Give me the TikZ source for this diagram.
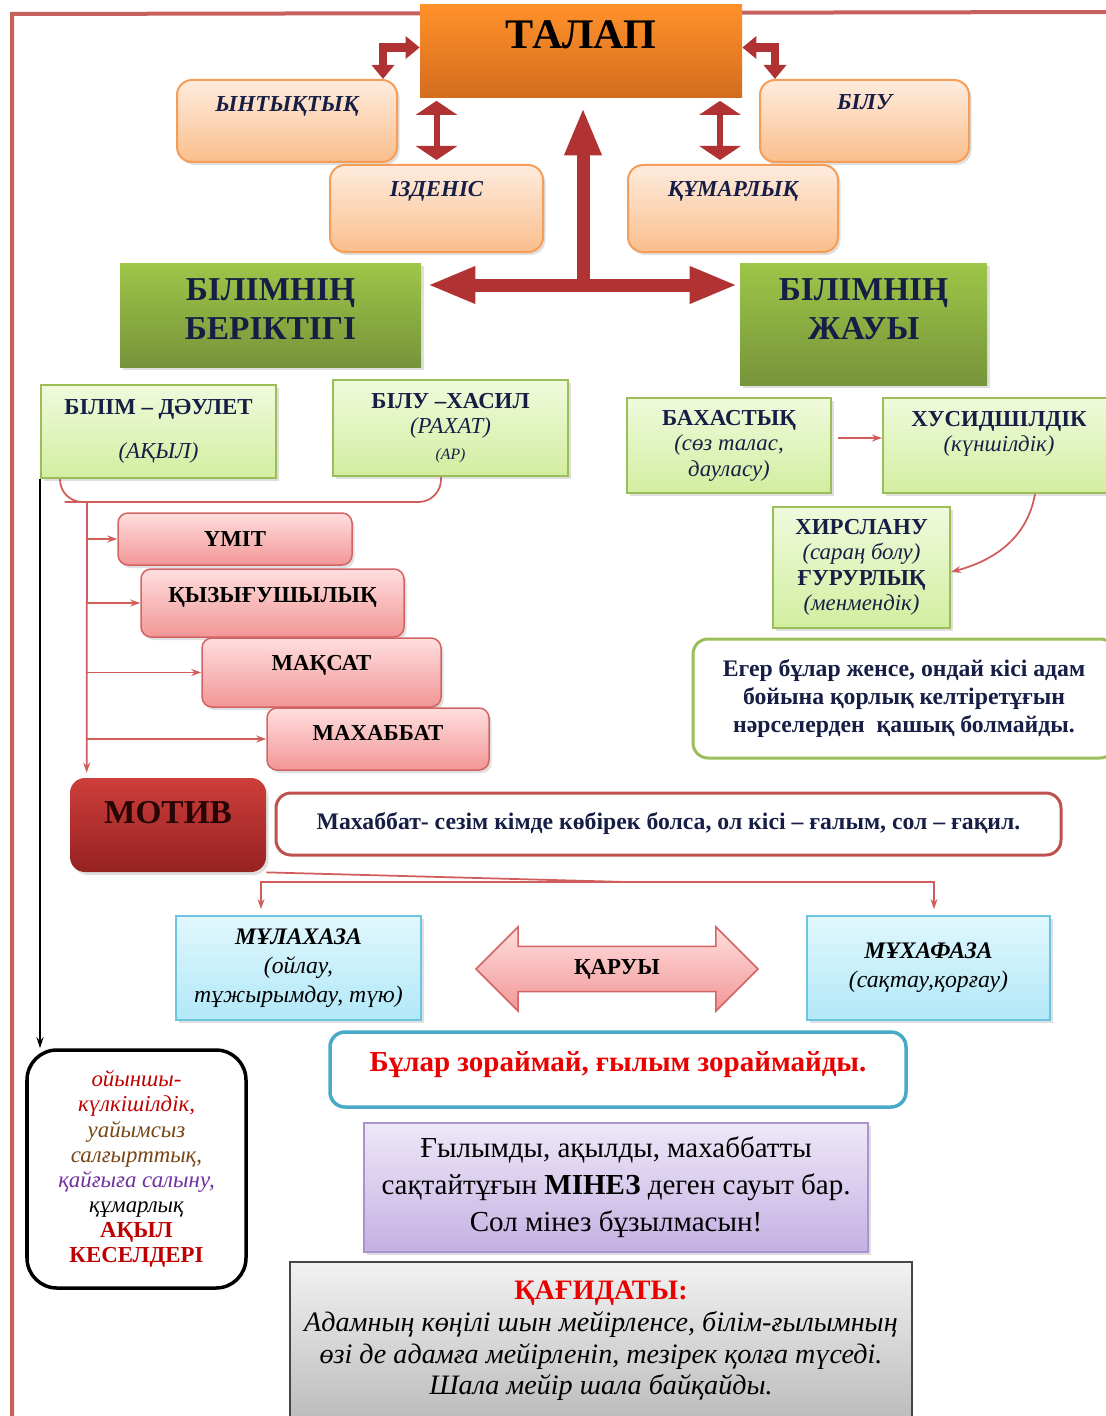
\documentclass[tikz,border=0pt]{standalone}
\usepackage{fontspec}
\setmainfont{Liberation Serif}
\usetikzlibrary{arrows.meta,shapes.arrows,shadows}
\pgfdeclarelayer{bg}
\pgfsetlayers{bg,main}

\definecolor{framered}{RGB}{192,80,77}
\definecolor{blockred}{RGB}{176,50,50}
\definecolor{linkred}{RGB}{208,92,92}
\definecolor{inktext}{RGB}{22,30,70}
\definecolor{talaptop}{RGB}{255,145,42}
\definecolor{talapbot}{RGB}{212,108,30}
\definecolor{peachtop}{RGB}{254,236,222}
\definecolor{peachbot}{RGB}{250,190,140}
\definecolor{peachedge}{RGB}{246,158,88}
\definecolor{greentop}{RGB}{158,198,72}
\definecolor{greenbot}{RGB}{118,148,58}
\definecolor{limetop}{RGB}{240,250,220}
\definecolor{limebot}{RGB}{210,238,160}
\definecolor{limeedge}{RGB}{155,190,90}
\definecolor{pinktop}{RGB}{255,222,222}
\definecolor{pinkbot}{RGB}{242,150,150}
\definecolor{pinkedge}{RGB}{210,100,100}
\definecolor{motivtop}{RGB}{205,62,58}
\definecolor{motivbot}{RGB}{150,34,34}
\definecolor{skytop}{RGB}{224,247,253}
\definecolor{skybot}{RGB}{178,232,248}
\definecolor{skyedge}{RGB}{110,195,222}
\definecolor{tealedge}{RGB}{72,170,200}
\definecolor{lilactop}{RGB}{238,232,248}
\definecolor{lilacbot}{RGB}{196,176,226}
\definecolor{lilacedge}{RGB}{170,148,206}
\definecolor{greytop}{RGB}{242,242,242}
\definecolor{greybot}{RGB}{188,188,188}
\definecolor{alarmred}{RGB}{235,0,0}
\definecolor{kesred}{RGB}{190,0,0}
\definecolor{kesbrown}{RGB}{120,70,20}
\definecolor{kespurple}{RGB}{112,48,160}

\tikzset{
  boxshadow/.style={drop shadow={opacity=0.25, shadow xshift=0.05cm, shadow yshift=-0.06cm}},
  talapbox/.style={top color=talaptop, bottom color=talapbot, inner sep=0.1cm,
    font=\bfseries\fontsize{24}{28}\selectfont},
  peachbox/.style={draw=peachedge, line width=0.04cm, rounded corners=0.3cm,
    top color=peachtop, bottom color=peachbot, boxshadow, inner sep=0.1cm,
    text=inktext, font=\bfseries\itshape\fontsize{13}{15}\selectfont},
  greenbox/.style={top color=greentop, bottom color=greenbot, boxshadow, align=center,
    inner sep=0.1cm, text=inktext, font=\bfseries\fontsize{19}{22}\selectfont},
  limebox/.style={draw=limeedge, line width=0.04cm, top color=limetop, bottom color=limebot,
    boxshadow, align=center, inner sep=0.1cm, text=inktext, font=\fontsize{13}{14.5}\selectfont},
  pinkbox/.style={draw=pinkedge, line width=0.03cm, rounded corners=0.2cm,
    top color=pinktop, bottom color=pinkbot, boxshadow, inner sep=0.1cm,
    font=\bfseries\fontsize{13}{15}\selectfont},
  motivbox/.style={rounded corners=0.3cm, top color=motivtop, bottom color=motivbot,
    boxshadow, inner sep=0.1cm, text={rgb,255:red,40;green,5;blue,5},
    font=\bfseries\fontsize{19}{22}\selectfont},
  notebox/.style={line width=0.06cm, rounded corners=0.3cm, fill=white, align=center,
    inner sep=0.1cm, text=inktext, font=\bfseries\fontsize{13.5}{16}\selectfont},
  skybox/.style={draw=skyedge, line width=0.04cm, top color=skytop, bottom color=skybot,
    boxshadow, align=center, inner sep=0.1cm, font=\itshape\fontsize{13.5}{16.5}\selectfont},
  qaruyarrow/.style={double arrow, double arrow head extend=0.39cm, inner ysep=0.24cm,
    draw=pinkedge, line width=0.03cm, top color=pinktop, bottom color=pinkbot,
    font=\bfseries\fontsize{13}{15}\selectfont},
  akylbox/.style={draw=black, line width=0.07cm, rounded corners=0.6cm, fill=white,
    align=center, inner sep=0.1cm, font=\itshape\fontsize{13}{14.3}\selectfont},
  lilacbox/.style={draw=lilacedge, line width=0.04cm, top color=lilactop, bottom color=lilacbot,
    boxshadow, align=center, inner sep=0.1cm, font=\fontsize{16.5}{21}\selectfont},
  greybox/.style={draw={rgb,255:red,70;green,70;blue,70}, line width=0.03cm,
    top color=greytop, bottom color=greybot, align=center, inner sep=0.1cm,
    font=\fontsize{16}{18}\selectfont},
  frameline/.style={draw=framered, line width=0.08cm, opacity=0.9},
  blockarrow/.style={draw=blockred, line width=0.26cm, -{Triangle[length=0.96cm, width=0.68cm]}},
  hookarrow/.style={draw=blockred, line width=0.17cm,
    {Triangle[length=0.28cm, width=0.44cm]}-{Triangle[length=0.28cm, width=0.44cm]}},
  twinarrow/.style={draw=blockred, line width=0.12cm,
    {Triangle[length=0.28cm, width=0.82cm]}-{Triangle[length=0.28cm, width=0.82cm]}},
  linkarrow/.style={draw=linkred, line width=0.035cm, -{Stealth[length=0.2cm, width=0.14cm]}},
  linkline/.style={draw=linkred, line width=0.035cm},
  inkarrow/.style={draw=black, line width=0.03cm, -{Stealth[length=0.22cm, width=0.14cm]}}
}

\begin{document}
\begin{tikzpicture}
        \useasboundingbox (0cm, 0cm) rectangle (22.1cm, -28.32cm);
        % top
        \node (talap) [talapbox, minimum width=6.44cm, minimum height=1.86cm, text depth=0.66cm] at (11.62cm, -1.03cm) {ТАЛАП};
        \node (yntyq) [peachbox, minimum width=4.40cm, minimum height=1.64cm, text depth=0.68cm] at (5.74cm, -2.42cm) {ЫНТЫҚТЫҚ};
        \node (bilu) [peachbox, minimum width=4.18cm, minimum height=1.64cm, text depth=0.76cm] at (17.29cm, -2.42cm) {БІЛУ};
        \node (izdenis) [peachbox, minimum width=4.26cm, minimum height=1.74cm, text depth=0.80cm] at (8.73cm, -4.17cm) {ІЗДЕНІС};
        \node (qumar) [peachbox, minimum width=4.20cm, minimum height=1.74cm, text depth=0.80cm] at (14.66cm, -4.17cm) {ҚҰМАРЛЫҚ};
        \node (berik) [greenbox, minimum width=6.02cm, minimum height=2.08cm, text height=0.98cm, text depth=0cm] at (5.41cm, -6.30cm) {БІЛІМНІҢ\\БЕРІКТІГІ};
        \node (jauy) [greenbox, minimum width=4.94cm, minimum height=2.44cm, text height=0.62cm, text depth=0cm] at (17.27cm, -6.48cm) {БІЛІМНІҢ\\ЖАУЫ};
        \coordinate (hub) at (11.66cm, -5.70cm);
        % left column
        \node (bilim) [limebox, minimum width=4.70cm, minimum height=1.86cm] at (3.17cm, -8.63cm) {\textbf{БІЛІМ – ДӘУЛЕТ}\\[0.37cm]\textit{(АҚЫЛ)}};
        \node (bilux) [limebox, minimum width=4.70cm, minimum height=1.92cm] at (9.01cm, -8.56cm) {\textbf{БІЛУ –ХАСИЛ}\\\textit{(РАХАТ)}\\{\fontsize{9}{10}\selectfont\textit{(АР)}}};
        \coordinate (brk) at (1.74cm, -10.04cm);
        \node (ymit) [pinkbox, minimum width=4.68cm, minimum height=1.04cm] at (4.70cm, -10.78cm) {ҮМІТ};
        \node (qyzyg) [pinkbox, minimum width=5.26cm, minimum height=1.36cm, text depth=0.32cm] at (5.45cm, -12.06cm) {ҚЫЗЫҒУШЫЛЫҚ};
        \node (maqsat) [pinkbox, minimum width=4.78cm, minimum height=1.38cm, text depth=0.38cm] at (6.43cm, -13.45cm) {МАҚСАТ};
        \node (mahabbat) [pinkbox, minimum width=4.44cm, minimum height=1.24cm, text depth=0.24cm] at (7.56cm, -14.78cm) {МАХАББАТ};
        % right column
        \node (bakh) [limebox, minimum width=4.08cm, minimum height=1.90cm] at (14.58cm, -8.91cm) {\textbf{БАХАСТЫҚ}\\\textit{(сөз талас,}\\\textit{дауласу)}};
        \node (khus) [limebox, minimum width=4.64cm, minimum height=1.90cm, text height=0.24cm, text depth=0cm] at (19.98cm, -8.91cm) {\textbf{ХУСИДШІЛДІК}\\\textit{(күншілдік)}};
        \node (hirs) [limebox, minimum width=3.54cm, minimum height=2.42cm] at (17.23cm, -11.35cm) {\textbf{ХИРСЛАНУ}\\\textit{(сараң болу)}\\\textbf{ҒУРУРЛЫҚ}\\\textit{(менмендік)}};
        \node (eger) [notebox, draw=limeedge, minimum width=8.44cm, minimum height=2.38cm] at (18.08cm, -13.97cm) {Егер бұлар женсе, ондай кісі адам\\бойына қорлық келтіретұғын\\нәрселерден\ \ қашық болмайды.};
        % motive
        \node (motiv) [motivbox, minimum width=3.92cm, minimum height=1.88cm, text depth=0.52cm] at (3.36cm, -16.50cm) {МОТИВ};
        \node (quote) [notebox, draw=framered, minimum width=15.70cm, minimum height=1.24cm] at (13.37cm, -16.48cm) {Махаббат- сезім кімде көбірек болса, ол кісі – ғалым, сол – ғақил.};
        \coordinate (split) at (12.54cm, -17.64cm);
        \node (mulah) [skybox, minimum width=4.90cm, minimum height=2.08cm] at (5.97cm, -19.36cm) {\textbf{МҰЛАХАЗА}\\(ойлау,\\тұжырымдау, түю)};
        \node (muhaf) [skybox, minimum width=4.86cm, minimum height=2.08cm] at (18.57cm, -19.36cm) {\textbf{МҰХАФАЗА}\\(сақтау,қорғау)};
        \node (qaruy) [qaruyarrow, minimum height=5.64cm, minimum width=1.64cm] at (12.34cm, -19.38cm) {ҚАРУЫ};
        % bottom
        \node (akyl) [akylbox, minimum width=4.38cm, minimum height=4.76cm] at (2.73cm, -23.38cm) {\textcolor{kesred}{ойыншы-}\\\textcolor{kesred}{күлкішілдік,}\\\textcolor{kesbrown}{уайымсыз}\\\textcolor{kesbrown}{салғырттық,}\\\textcolor{kespurple}{қайғыға салыну,}\\құмарлық\\\textcolor{kesred}{\upshape\bfseries\fontsize{13}{14.3}\selectfont АҚЫЛ}\\\textcolor{kesred}{\upshape\bfseries\fontsize{13}{14.3}\selectfont КЕСЕЛДЕРІ}};
        \node (bular) [notebox, draw=tealedge, line width=0.07cm, minimum width=11.52cm, minimum height=1.50cm, text depth=0.30cm, text=alarmred, font=\bfseries\fontsize{16.5}{18}\selectfont] at (12.36cm, -21.39cm) {Бұлар зораймай, ғылым зораймайды.};
        \node (mineze) [lilacbox, minimum width=10.08cm, minimum height=2.58cm] at (12.32cm, -23.75cm) {Ғылымды, ақылды, махаббатты\\сақтайтұғын \textbf{МІНЕЗ} деген сауыт бар.\\Сол мінез бұзылмасын!};
        \node (qagida) [greybox, minimum width=12.44cm, minimum height=3.16cm] at (12.02cm, -26.82cm) {\textcolor{alarmred}{\bfseries ҚАҒИДАТЫ:}\\\textit{Адамның көңілі шын мейірленсе, білім-ғылымның}\\\textit{өзі де адамға мейірленіп, тезірек қолға түседі.}\\\textit{Шала мейір шала байқайды.}};
        \begin{pgfonlayer}{bg}
                \draw [frameline] (22.2cm, -0.24cm) -- (0.24cm, -0.28cm) -- (0.24cm, -28.4cm);
                \draw [hookarrow] ([xshift=-0.30cm]yntyq.north east) |- ([yshift=0.08cm]talap.west);
                \draw [hookarrow] ([yshift=0.08cm]talap.east) -| ([xshift=0.32cm]bilu.north west);
                \draw [twinarrow, shorten <=0.08cm, shorten >=0.05cm] (izdenis.north) -- (izdenis.north |- talap.south);
                \draw [twinarrow, shorten <=0.08cm, shorten >=0.05cm] ([xshift=-0.26cm]qumar.north) -- ([xshift=-0.26cm]qumar.north |- talap.south);
                \draw [blockarrow] (hub) -- ([yshift=-0.18cm]talap.south -| hub);
                \draw [blockarrow] (hub) -- ([xshift=0.12cm]berik.east |- hub);
                \draw [blockarrow] (hub) -- ([xshift=-0.04cm]jauy.west |- hub);
                \draw [linkline, rounded corners=0.45cm] ([xshift=0.40cm]bilim.south west) |- (brk) -| ([xshift=-0.19cm]bilux.south);
                \draw [linkarrow, shorten >=0.1cm] (brk) -- ([xshift=0.34cm]motiv.north west);
                \foreach \b in {ymit,qyzyg,maqsat,mahabbat}
                        \draw [linkarrow] (brk |- \b.west) -- (\b.west);
                \draw [inkarrow] (bilim.south west) -- (bilim.south west |- akyl.north);
                \draw [linkarrow, shorten <=0.12cm] ([yshift=0.15cm]bakh.east) -- ([yshift=0.15cm]bakh.east -| khus.west);
                \draw [linkarrow] ([xshift=0.72cm]khus.south) to [out=-100, in=15] ([yshift=-0.09cm]hirs.east);
                \draw [linkline] (motiv.south east) -- (split);
                \draw [linkarrow, shorten >=0.12cm] (split) -| ([xshift=-0.75cm]mulah.north);
                \draw [linkarrow, shorten >=0.12cm] (split) -| ([xshift=0.11cm]muhaf.north);
        \end{pgfonlayer}
\end{tikzpicture}
\end{document}
